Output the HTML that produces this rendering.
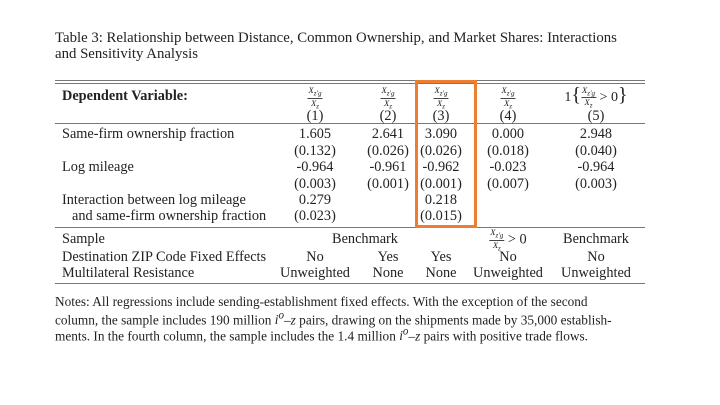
<!DOCTYPE html>
<html><head><style>
body{margin:0;width:720px;height:405px;background:#fff;position:relative;overflow:hidden;font-family:"Liberation Serif",serif;color:#222;font-size:14.3px}
.t{position:absolute;white-space:nowrap;line-height:1}
.c{position:absolute;white-space:nowrap;line-height:1;transform:translateX(-50%)}
.hl{position:absolute;left:55px;width:590px;background:#777}
.fr{display:inline-block;vertical-align:middle;text-align:center;font-size:8.5px;font-style:italic;line-height:1}
.fr span{display:block;border-bottom:0.5px solid #444;padding:0 1px}
</style></head><body>
<div class="t" style="left:55px;top:31px;font-size:14.8px">Table 3: Relationship between Distance, Common Ownership, and Market Shares: Interactions</div>
<div class="t" style="left:55px;top:47px;font-size:14.8px">and Sensitivity Analysis</div>
<div class="hl" style="top:80px;height:1px"></div>
<div class="hl" style="top:83px;height:1px"></div>
<div class="t" style="left:62px;top:89px;font-weight:bold">Dependent Variable:</div>
<div class="c" style="left:315px;top:86px"><div class="fr"><span>X<sub>z'g</sub></span>X<sub>z</sub></div></div>
<div class="c" style="left:388px;top:86px"><div class="fr"><span>X<sub>z'g</sub></span>X<sub>z</sub></div></div>
<div class="c" style="left:441px;top:86px"><div class="fr"><span>X<sub>z'g</sub></span>X<sub>z</sub></div></div>
<div class="c" style="left:508px;top:86px"><div class="fr"><span>X<sub>z'g</sub></span>X<sub>z</sub></div></div>
<div class="c" style="left:596px;top:85px;font-size:14px">1<span style="font-size:20px">{</span><div class="fr"><span>X<sub>z'g</sub></span>X<sub>z</sub></div> &gt; 0<span style="font-size:20px">}</span></div>
<div class="c" style="left:315px;top:109px">(1)</div>
<div class="c" style="left:388px;top:109px">(2)</div>
<div class="c" style="left:441px;top:109px">(3)</div>
<div class="c" style="left:508px;top:109px">(4)</div>
<div class="c" style="left:596px;top:109px">(5)</div>
<div class="hl" style="top:123px;height:1px"></div>
<div class="t" style="left:62px;top:127px">Same-firm ownership fraction</div>
<div class="c" style="left:315px;top:127px">1.605</div><div class="c" style="left:388px;top:127px">2.641</div><div class="c" style="left:441px;top:127px">3.090</div><div class="c" style="left:508px;top:127px">0.000</div><div class="c" style="left:596px;top:127px">2.948</div>
<div class="c" style="left:315px;top:144px">(0.132)</div><div class="c" style="left:388px;top:144px">(0.026)</div><div class="c" style="left:441px;top:144px">(0.026)</div><div class="c" style="left:508px;top:144px">(0.018)</div><div class="c" style="left:596px;top:144px">(0.040)</div>
<div class="t" style="left:62px;top:160px">Log mileage</div>
<div class="c" style="left:315px;top:160px">-0.964</div><div class="c" style="left:388px;top:160px">-0.961</div><div class="c" style="left:441px;top:160px">-0.962</div><div class="c" style="left:508px;top:160px">-0.023</div><div class="c" style="left:596px;top:160px">-0.964</div>
<div class="c" style="left:315px;top:177px">(0.003)</div><div class="c" style="left:388px;top:177px">(0.001)</div><div class="c" style="left:441px;top:177px">(0.001)</div><div class="c" style="left:508px;top:177px">(0.007)</div><div class="c" style="left:596px;top:177px">(0.003)</div>
<div class="t" style="left:62px;top:193px">Interaction between log mileage</div>
<div class="c" style="left:315px;top:193px">0.279</div><div class="c" style="left:441px;top:193px">0.218</div>
<div class="t" style="left:72px;top:209px">and same-firm ownership fraction</div>
<div class="c" style="left:315px;top:209px">(0.023)</div><div class="c" style="left:441px;top:209px">(0.015)</div>
<div class="hl" style="top:227px;height:1px"></div>
<div class="t" style="left:62px;top:232px">Sample</div>
<div class="c" style="left:365px;top:232px">Benchmark</div>
<div class="c" style="left:508px;top:228px"><div class="fr"><span>X<sub>z'g</sub></span>X<sub>z</sub></div> &gt; 0</div>
<div class="c" style="left:596px;top:232px">Benchmark</div>
<div class="t" style="left:62px;top:250px">Destination ZIP Code Fixed Effects</div>
<div class="c" style="left:315px;top:250px">No</div><div class="c" style="left:388px;top:250px">Yes</div><div class="c" style="left:441px;top:250px">Yes</div><div class="c" style="left:508px;top:250px">No</div><div class="c" style="left:596px;top:250px">No</div>
<div class="t" style="left:62px;top:266px">Multilateral Resistance</div>
<div class="c" style="left:315px;top:266px">Unweighted</div><div class="c" style="left:388px;top:266px">None</div><div class="c" style="left:441px;top:266px">None</div><div class="c" style="left:508px;top:266px">Unweighted</div><div class="c" style="left:596px;top:266px">Unweighted</div>
<div class="hl" style="top:283px;height:1px"></div>
<div class="t" style="left:55px;top:295px;font-size:13.3px">Notes: All regressions include sending-establishment fixed effects. With the exception of the second</div>
<div class="t" style="left:55px;top:311px;font-size:13.3px">column, the sample includes 190 million <i>i<sup>o</sup></i>–<i>z</i> pairs, drawing on the shipments made by 35,000 establish-</div>
<div class="t" style="left:55px;top:327px;font-size:13.3px">ments. In the fourth column, the sample includes the 1.4 million <i>i<sup>o</sup></i>–<i>z</i> pairs with positive trade flows.</div>
<div style="position:absolute;left:415px;top:80px;width:56px;height:142px;border:3px solid #ed7d31"></div>
</body></html>
